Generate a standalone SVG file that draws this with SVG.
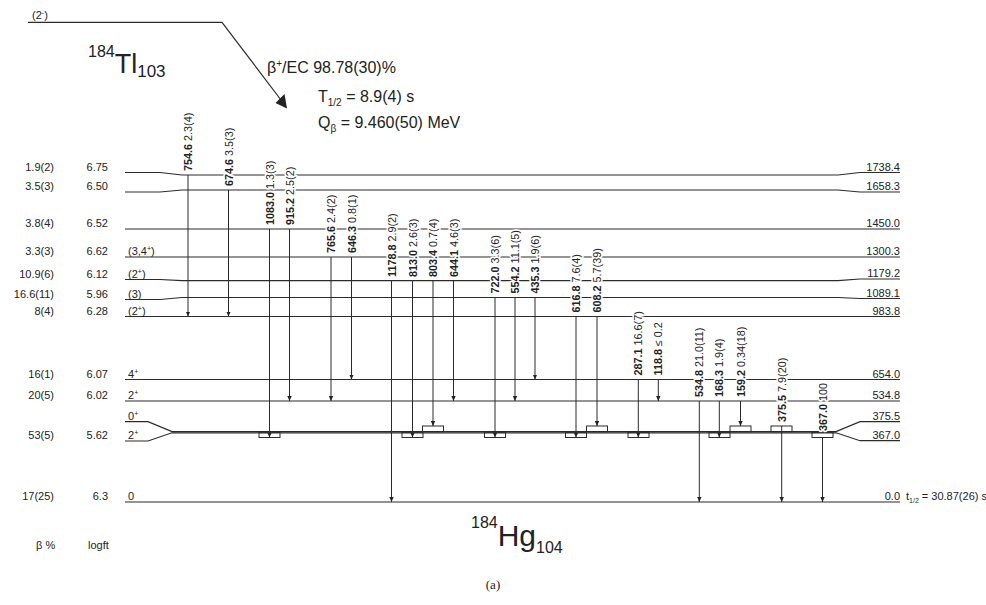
<svg xmlns="http://www.w3.org/2000/svg" width="986" height="605" viewBox="0 0 986 605">
<style>
.lv{fill:none;stroke:#2b2b2b;stroke-width:1.2}
.gm{fill:none;stroke:#2b2b2b;stroke-width:1;marker-end:url(#ah)}
.bx{fill:none;stroke:#2b2b2b;stroke-width:1}
.t{font-family:"Liberation Sans",Arial,sans-serif;fill:#222;font-size:11px}
.r{text-anchor:end}
.gl{font-family:"Liberation Sans",Arial,sans-serif;font-size:10.8px;fill:#222;stroke:#fff;stroke-width:3.2;paint-order:stroke fill;stroke-linejoin:round}
.b{font-weight:bold}
.h{font-family:"Liberation Sans",Arial,sans-serif;fill:#222}
</style>
<defs>
<marker id="ah" viewBox="0 -3 6 6" refX="5" refY="0" markerWidth="6" markerHeight="6" orient="auto" markerUnits="userSpaceOnUse">
<path d="M0,-2.2 L5,0 L0,2.2 z" fill="#222"/>
</marker>
</defs>
<rect width="986" height="605" fill="#fff"/>

<!-- parent -->
<g id="parent">
<path class="lv" d="M28,22.3 H222 L281,100"/>
<path d="M287,108.5 L275.5,103 L284.5,94 z" fill="#222"/>
<text class="t" x="32" y="19">(2<tspan font-size="7" dy="-4">-</tspan><tspan dy="4">)</tspan></text>
<text class="h" x="88" y="73"><tspan font-size="16" dy="-16">184</tspan><tspan font-size="27" dy="16">Tl</tspan><tspan font-size="17" dy="4">103</tspan></text>
<text class="h" x="267" y="73" font-size="16">β<tspan font-size="10" dy="-6">+</tspan><tspan dy="6">/EC 98.78(30)%</tspan></text>
<text class="h" x="318" y="102" font-size="16">T<tspan font-size="10" dy="4">1/2</tspan><tspan dy="-4"> = 8.9(4) s</tspan></text>
<text class="h" x="318" y="128" font-size="16">Q<tspan font-size="10" dy="4">β</tspan><tspan dy="-4"> = 9.460(50) MeV</tspan></text>
</g>

<!-- levels -->
<g id="levels">
<g id="lvl-1738.4"><path class="lv" d="M125,172.5 H160 L182,175 H838 L860,172.5 H900"/>
<text class="t r" x="54" y="170.5">1.9(2)</text><text class="t r" x="108" y="170.5">6.75</text><text class="t r" x="900" y="170.5">1738.4</text></g>
<g id="lvl-1658.3"><path class="lv" d="M125,192 H160 L182,190 H838 L860,192 H900"/>
<text class="t r" x="54" y="189.5">3.5(3)</text><text class="t r" x="108" y="189.5">6.50</text><text class="t r" x="900" y="190">1658.3</text></g>
<g id="lvl-1450.0"><path class="lv" d="M125,229 H900"/>
<text class="t r" x="54" y="227">3.8(4)</text><text class="t r" x="108" y="227">6.52</text><text class="t r" x="900" y="227">1450.0</text></g>
<g id="lvl-1300.3"><path class="lv" d="M125,257 H900"/>
<text class="t r" x="54" y="255">3.3(3)</text><text class="t r" x="108" y="255">6.62</text><text class="t" x="128" y="255">(3,4<tspan font-size="7" dy="-4">+</tspan><tspan dy="4">)</tspan></text><text class="t r" x="900" y="255">1300.3</text></g>
<g id="lvl-1179.2"><path class="lv" d="M125,279.5 H160 L182,280.7 H838 L860,279 H900"/>
<text class="t r" x="54" y="277.5">10.9(6)</text><text class="t r" x="108" y="277.5">6.12</text><text class="t" x="128" y="277.5">(2<tspan font-size="7" dy="-4">+</tspan><tspan dy="4">)</tspan></text><text class="t r" x="900" y="277">1179.2</text></g>
<g id="lvl-1089.1"><path class="lv" d="M125,299.5 H160 L182,297.5 H838 L860,298.5 H900"/>
<text class="t r" x="54" y="297.5">16.6(11)</text><text class="t r" x="108" y="297.5">5.96</text><text class="t" x="128" y="297.5">(3)</text><text class="t r" x="900" y="296.5">1089.1</text></g>
<g id="lvl-983.8"><path class="lv" d="M125,316.5 H900"/>
<text class="t r" x="54" y="314.5">8(4)</text><text class="t r" x="108" y="314.5">6.28</text><text class="t" x="128" y="314.5">(2<tspan font-size="7" dy="-4">+</tspan><tspan dy="4">)</tspan></text><text class="t r" x="900" y="314.5">983.8</text></g>
<g id="lvl-654.0"><path class="lv" d="M125,379.5 H900"/>
<text class="t r" x="54" y="377.5">16(1)</text><text class="t r" x="108" y="377.5">6.07</text><text class="t" x="128" y="377.5">4<tspan font-size="7" dy="-4">+</tspan></text><text class="t r" x="900" y="377.5">654.0</text></g>
<g id="lvl-534.8"><path class="lv" d="M125,401 H900"/>
<text class="t r" x="54" y="399">20(5)</text><text class="t r" x="108" y="399">6.02</text><text class="t" x="128" y="399">2<tspan font-size="7" dy="-4">+</tspan></text><text class="t r" x="900" y="399">534.8</text></g>
<g id="lvl-375.5"><path class="lv" d="M125,421.7 H148 L172,431.6 H836 L860,421.7 H900"/>
<text class="t" x="128" y="419.7">0<tspan font-size="7" dy="-4">+</tspan></text><text class="t r" x="900" y="419.7">375.5</text></g>
<g id="lvl-367.0"><path class="lv" d="M125,441 H148 L172,432.8 H836 L860,440.7 H900"/>
<text class="t r" x="54" y="439">53(5)</text><text class="t r" x="108" y="439">5.62</text><text class="t" x="128" y="439">2<tspan font-size="7" dy="-4">+</tspan></text><text class="t r" x="900" y="438.7">367.0</text></g>
<g id="lvl-0.0"><path class="lv" d="M125,502 H900"/>
<text class="t r" x="54" y="500">17(25)</text><text class="t r" x="108" y="500">6.3</text><text class="t" x="128" y="500">0</text><text class="t r" x="900" y="500">0.0</text>
<text class="t" x="906" y="500">t<tspan font-size="7" dy="3">1/2</tspan><tspan dy="-3"> = 30.87(26) s</tspan></text></g>
<g id="boxes">
<rect class="bx" x="259" y="432.3" width="21" height="5.2"/>
<rect class="bx" x="402" y="432.3" width="21" height="5.2"/>
<rect class="bx" x="484.5" y="432.3" width="21" height="5.2"/>
<rect class="bx" x="565.5" y="432.3" width="21" height="5.2"/>
<rect class="bx" x="628" y="432.3" width="21" height="5.2"/>
<rect class="bx" x="709" y="432.3" width="21" height="5.2"/>
<rect class="bx" x="812" y="432.3" width="21" height="5.2"/>
<rect class="bx" x="422.5" y="426" width="21" height="5.6"/>
<rect class="bx" x="586.5" y="426" width="21" height="5.6"/>
<rect class="bx" x="730" y="426" width="21" height="5.6"/>
<rect class="bx" x="771" y="426" width="21" height="5.6"/>
</g>
</g>

<!-- gamma transitions -->
<g id="connectors">
<g id="gamma-labels">
<text class="gl" transform="translate(192,171) rotate(-90)"><tspan class="b">754.6</tspan> 2.3(4)</text>
<text class="gl" transform="translate(232.5,186) rotate(-90)"><tspan class="b">674.6</tspan> 3.5(3)</text>
<text class="gl" transform="translate(273.5,225) rotate(-90)"><tspan class="b">1083.0</tspan> 1.3(3)</text>
<text class="gl" transform="translate(293.5,225) rotate(-90)"><tspan class="b">915.2</tspan> 2.5(2)</text>
<text class="gl" transform="translate(335,253) rotate(-90)"><tspan class="b">765.6</tspan> 2.4(2)</text>
<text class="gl" transform="translate(355.5,253) rotate(-90)"><tspan class="b">646.3</tspan> 0.8(1)</text>
<text class="gl" transform="translate(395.5,277) rotate(-90)"><tspan class="b">1178.8</tspan> 2.9(2)</text>
<text class="gl" transform="translate(416.5,277) rotate(-90)"><tspan class="b">813.0</tspan> 2.6(3)</text>
<text class="gl" transform="translate(437,277) rotate(-90)"><tspan class="b">803.4</tspan> 0.7(4)</text>
<text class="gl" transform="translate(457.5,277) rotate(-90)"><tspan class="b">644.1</tspan> 4.6(3)</text>
<text class="gl" transform="translate(499,293.5) rotate(-90)"><tspan class="b">722.0</tspan> 3.3(6)</text>
<text class="gl" transform="translate(519,293.5) rotate(-90)"><tspan class="b">554.2</tspan> 11.1(5)</text>
<text class="gl" transform="translate(539,293.5) rotate(-90)"><tspan class="b">435.3</tspan> 1.9(6)</text>
<text class="gl" transform="translate(580,312.5) rotate(-90)"><tspan class="b">616.8</tspan> 7.6(4)</text>
<text class="gl" transform="translate(601,312.5) rotate(-90)"><tspan class="b">608.2</tspan> 5.7(39)</text>
<text class="gl" transform="translate(642.3,375.5) rotate(-90)"><tspan class="b">287.1</tspan> 16.6(7)</text>
<text class="gl" transform="translate(662.3,375.5) rotate(-90)"><tspan class="b">118.8</tspan> ≤ 0.2</text>
<text class="gl" transform="translate(703.3,397) rotate(-90)"><tspan class="b">534.8</tspan> 21.0(11)</text>
<text class="gl" transform="translate(723.3,397) rotate(-90)"><tspan class="b">168.3</tspan> 1.9(4)</text>
<text class="gl" transform="translate(744.5,397) rotate(-90)"><tspan class="b">159.2</tspan> 0.34(18)</text>
<text class="gl" transform="translate(785.7,422) rotate(-90)"><tspan class="b">375.5</tspan> 7.9(20)</text>
<text class="gl" transform="translate(826.5,431) rotate(-90)"><tspan class="b">367.0</tspan> 100</text>
</g>
<g id="gamma-lines">
<line class="gm" x1="188" y1="175" x2="188" y2="316.5"/>
<line class="gm" x1="228.5" y1="190" x2="228.5" y2="316.5"/>
<line class="gm" x1="269.5" y1="229" x2="269.5" y2="437.5"/>
<line class="gm" x1="289.5" y1="229" x2="289.5" y2="401"/>
<line class="gm" x1="331" y1="257" x2="331" y2="401"/>
<line class="gm" x1="351.5" y1="257" x2="351.5" y2="379.5"/>
<line class="gm" x1="391.5" y1="280.7" x2="391.5" y2="502"/>
<line class="gm" x1="412.5" y1="280.7" x2="412.5" y2="437.5"/>
<line class="gm" x1="433" y1="280.7" x2="433" y2="426"/>
<line class="gm" x1="453.5" y1="280.7" x2="453.5" y2="401"/>
<line class="gm" x1="495" y1="297.5" x2="495" y2="437.5"/>
<line class="gm" x1="515" y1="297.5" x2="515" y2="401"/>
<line class="gm" x1="535" y1="297.5" x2="535" y2="379.5"/>
<line class="gm" x1="576" y1="316.5" x2="576" y2="437.5"/>
<line class="gm" x1="597" y1="316.5" x2="597" y2="426"/>
<line class="gm" x1="638.3" y1="379.5" x2="638.3" y2="437.5"/>
<line class="gm" x1="658.3" y1="379.5" x2="658.3" y2="401"/>
<line class="gm" x1="699.3" y1="401" x2="699.3" y2="502"/>
<line class="gm" x1="719.3" y1="401" x2="719.3" y2="437.5"/>
<line class="gm" x1="740.5" y1="401" x2="740.5" y2="426"/>
<line class="gm" x1="781.7" y1="426" x2="781.7" y2="502"/>
<line class="gm" x1="822.5" y1="437.5" x2="822.5" y2="502"/>
</g>
</g>

<g id="footer">
<text class="t" x="36" y="549" font-size="10">β %</text>
<text class="t" x="88" y="549" font-size="10">logft</text>
<text class="h" x="471" y="546"><tspan font-size="16" dy="-18">184</tspan><tspan font-size="30" dy="18">Hg</tspan><tspan font-size="16" dy="7">104</tspan></text>
<text x="493" y="589" text-anchor="middle" font-family="Liberation Serif, serif" font-size="13" fill="#222">(a)</text>
</g>
</svg>
